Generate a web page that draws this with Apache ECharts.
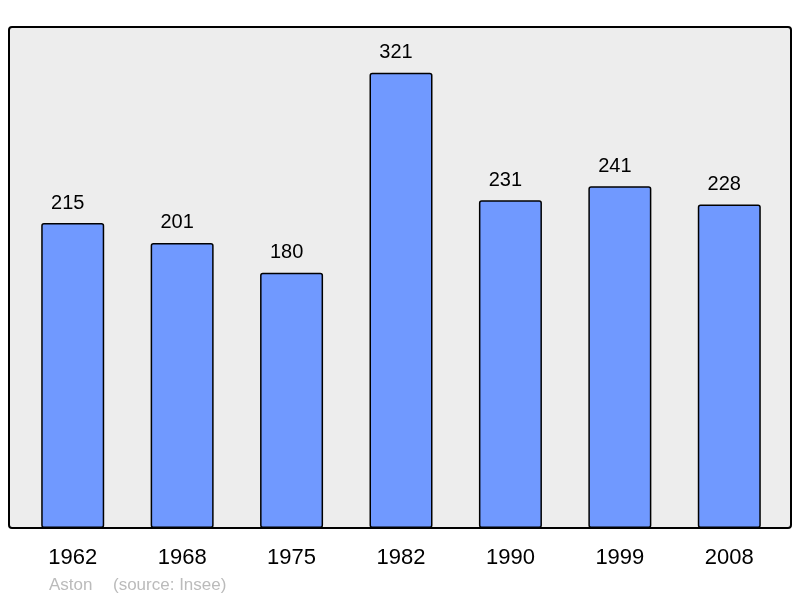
<!DOCTYPE html>
<html>
<head>
<meta charset="utf-8">
<script src="https://cdn.jsdelivr.net/npm/echarts@6/dist/echarts.min.js"></script>
<style>
html,body{margin:0;padding:0;background:#fff;}
#c{width:800px;height:598px;}
</style>
</head>
<body>
<div id="c"></div>
<script>
var years = ['1962','1968','1975','1982','1990','1999','2008'];
var population = [215, 201, 180, 321, 231, 241, 228];
var sourceName = 'Aston';
var sourceNote = '(source: Insee)';

var chart = echarts.init(document.getElementById('c'), null, {renderer:'canvas'});
chart.setOption({
  animation: false,
  textStyle: {fontFamily: 'Liberation Sans, Arial, sans-serif'},
  graphic: [
    {type:'rect', z:-10, shape:{x:9, y:27, width:782, height:501, r:3},
     style:{fill:'#ededed', stroke:'#000', lineWidth:2}},
    {type:'text', left:49, top:577, style:{text:sourceName, fill:'#bbbbbb', font:'17px Liberation Sans, Arial, sans-serif'}},
    {type:'text', left:113, top:577, style:{text:sourceNote, fill:'#bbbbbb', font:'17px Liberation Sans, Arial, sans-serif'}}
  ],
  grid: {left:18, right:16, top:27, bottom:70},
  xAxis: {
    type:'category', data: years,
    axisLine:{show:false}, axisTick:{show:false},
    axisLabel:{color:'#000', fontSize:22, margin:19, fontFamily:'Liberation Sans, Arial, sans-serif'}
  },
  yAxis: {
    type:'value', min:0, max:353.2,
    show:false, splitLine:{show:false}
  },
  series: [{
    type:'bar', data: population, barWidth: 63,
    itemStyle:{color:'#7099ff', borderColor:'#000', borderWidth:1.5, borderRadius:2},
    label:{show:true, position:'top', distance:10, offset:[-5,0], color:'#000', fontSize:20, fontFamily:'Liberation Sans, Arial, sans-serif'}
  }]
});
</script>
</body>
</html>
